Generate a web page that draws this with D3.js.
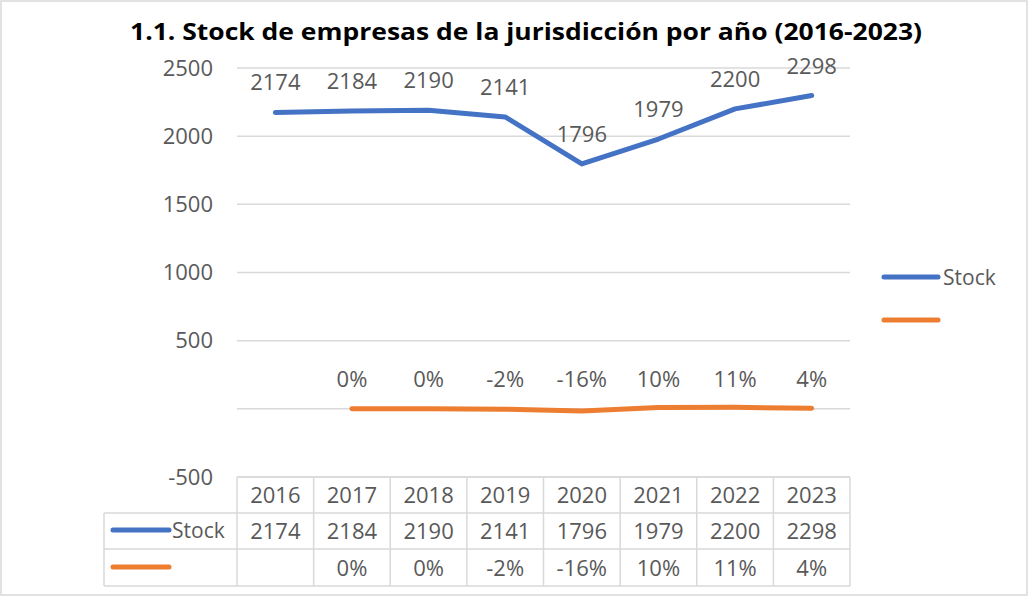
<!DOCTYPE html>
<html>
<head>
<meta charset="utf-8">
<script src="https://cdn.jsdelivr.net/npm/d3@7"></script>
<style>
  body { margin: 0; background: #fff; }
  svg text { font-family: "Open Sans", "Liberation Sans", sans-serif; fill: #595959; }
</style>
</head>
<body>
<svg id="chart" width="1029" height="596"></svg>
<script>
// datos del grafico
var years = ["2016", "2017", "2018", "2019", "2020", "2021", "2022", "2023"];
var stock = [2174, 2184, 2190, 2141, 1796, 1979, 2200, 2298];
// variacion interanual (en %), 2016 sin dato
var variacion = [null, 0.5, 0.3, -2.2, -16.1, 10.2, 11.2, 4.5];
var variacionLabels = ["", "0%", "0%", "-2%", "-16%", "10%", "11%", "4%"];
var yTicks = [-500, 500, 1000, 1500, 2000, 2500];
var gridTicks = [-500, 0, 500, 1000, 1500, 2000, 2500];

var azul = "#4472C4", naranja = "#ED7D31", gris = "#D9D9D9";

var svg = d3.select("#chart");

// borde exterior
svg.append("rect")
  .attr("x", 1).attr("y", 1).attr("width", 1026).attr("height", 594)
  .attr("fill", "none").attr("stroke", gris).attr("stroke-width", 1.5);

// titulo
svg.append("text")
  .attr("x", 526).attr("y", 40)
  .attr("text-anchor", "middle")
  .attr("textLength", 792).attr("lengthAdjust", "spacingAndGlyphs")
  .style("font-size", "23px").style("font-weight", "bold").style("fill", "#000")
  .text("1.1. Stock de empresas de la jurisdicción por año (2016-2023)");

var x = d3.scaleBand().domain(years).range([237, 850]);
var y = d3.scaleLinear().domain([-500, 2500]).range([477, 68]);

// lineas de grilla
svg.append("g").selectAll("line")
  .data(gridTicks)
  .enter().append("line")
  .attr("x1", 237).attr("x2", 850)
  .attr("y1", function(d) { return y(d); })
  .attr("y2", function(d) { return y(d); })
  .attr("stroke", gris).attr("stroke-width", 1.5);

// eje Y (guion normal en el negativo)
var yAxis = d3.axisLeft(y).tickValues(yTicks).tickSize(0).tickPadding(24)
  .tickFormat(function(d) { return String(d); });
var gy = svg.append("g").attr("transform", "translate(237,0)").call(yAxis);
gy.select(".domain").remove();
gy.selectAll("text").style("font-size", "22px").style("fill", "#595959")
  .style("font-family", "'Open Sans', sans-serif");

function cx(d) { return x(d) + x.bandwidth() / 2; }

// serie Stock
var lineaStock = d3.line()
  .x(function(d, i) { return cx(years[i]); })
  .y(function(d) { return y(d); });

svg.append("path")
  .datum(stock)
  .attr("fill", "none").attr("stroke", azul).attr("stroke-width", 5)
  .attr("stroke-linecap", "round").attr("stroke-linejoin", "round")
  .attr("d", lineaStock);

svg.append("g").selectAll("text")
  .data(stock)
  .enter().append("text")
  .attr("x", function(d, i) { return cx(years[i]); })
  .attr("y", function(d) { return y(d) - 22; })
  .attr("text-anchor", "middle")
  .style("font-size", "22px")
  .text(function(d) { return d; });

// serie variacion
var lineaVar = d3.line()
  .defined(function(d) { return d !== null; })
  .x(function(d, i) { return cx(years[i]); })
  .y(function(d) { return y(d); });

svg.append("path")
  .datum(variacion)
  .attr("fill", "none").attr("stroke", naranja).attr("stroke-width", 5)
  .attr("stroke-linecap", "round").attr("stroke-linejoin", "round")
  .attr("d", lineaVar);

// etiquetas de variacion, todas a la altura del cero
svg.append("g").selectAll("text")
  .data(years)
  .enter().append("text")
  .filter(function(d, i) { return variacion[i] !== null; })
  .attr("x", function(d) { return cx(d); })
  .attr("y", y(0) - 22)
  .attr("text-anchor", "middle")
  .style("font-size", "22px")
  .text(function(d) { return variacionLabels[years.indexOf(d)]; });

// leyenda
svg.append("line").attr("x1", 884).attr("x2", 938).attr("y1", 277).attr("y2", 277)
  .attr("stroke", azul).attr("stroke-width", 5).attr("stroke-linecap", "round");
svg.append("text").attr("x", 943).attr("y", 285).style("font-size", "21px").text("Stock");
svg.append("line").attr("x1", 884).attr("x2", 938).attr("y1", 320).attr("y2", 320)
  .attr("stroke", naranja).attr("stroke-width", 5).attr("stroke-linecap", "round");

// tabla de datos
var filas = [477, 513, 549, 586];
var tabla = svg.append("g");
var colsX = years.map(function(d) { return x(d); }).concat([850]);

// horizontales
tabla.append("line").attr("x1", 237).attr("x2", 850).attr("y1", filas[0]).attr("y2", filas[0]);
[1, 2, 3].forEach(function(k) {
  tabla.append("line").attr("x1", 104).attr("x2", 850).attr("y1", filas[k]).attr("y2", filas[k]);
});
// verticales
colsX.forEach(function(cxv) {
  tabla.append("line").attr("x1", cxv).attr("x2", cxv).attr("y1", filas[0]).attr("y2", filas[3]);
});
tabla.append("line").attr("x1", 104).attr("x2", 104).attr("y1", filas[1]).attr("y2", filas[3]);
tabla.selectAll("line").attr("stroke", gris).attr("stroke-width", 1.5);

function filaTexto(vals, k) {
  tabla.append("g").selectAll("text")
    .data(vals)
    .enter().append("text")
    .attr("x", function(d, i) { return cx(years[i]); })
    .attr("y", (filas[k] + filas[k + 1]) / 2 + 8)
    .attr("text-anchor", "middle")
    .style("font-size", "22px")
    .text(function(d) { return d; });
}
filaTexto(years, 0);
filaTexto(stock, 1);
filaTexto(variacionLabels, 2);

// claves de la tabla
tabla.append("line").attr("x1", 113).attr("x2", 169).attr("y1", 530).attr("y2", 530)
  .attr("stroke", azul).attr("stroke-width", 5).attr("stroke-linecap", "round");
tabla.append("text").attr("x", 172).attr("y", 538).style("font-size", "21px").text("Stock");
tabla.append("line").attr("x1", 113).attr("x2", 169).attr("y1", 567).attr("y2", 567)
  .attr("stroke", naranja).attr("stroke-width", 5).attr("stroke-linecap", "round");
</script>
</body>
</html>
